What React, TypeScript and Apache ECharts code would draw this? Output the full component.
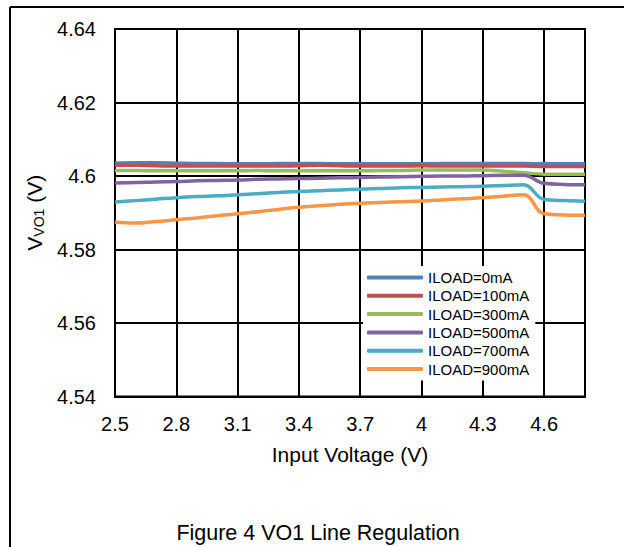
import React, { useEffect, useRef } from "react";
import * as echarts from "echarts";

const voltages = [2.5, 2.6, 2.7, 2.8, 2.9, 3.0, 3.1, 3.2, 3.3, 3.4, 3.5, 3.6, 3.7, 3.8, 3.9, 4.0, 4.1, 4.2, 4.3, 4.4, 4.5, 4.6, 4.7, 4.8];

const load0 = [4.6035, 4.6036, 4.6036, 4.6035, 4.6034, 4.6034, 4.6033, 4.6033, 4.6034, 4.6034, 4.6034, 4.6033, 4.6033, 4.6033, 4.6033, 4.6033, 4.6034, 4.6034, 4.6034, 4.6034, 4.6034, 4.6033, 4.6033, 4.6033];
const load100 = [4.6029, 4.6029, 4.6028, 4.6027, 4.6027, 4.6027, 4.6027, 4.6027, 4.6027, 4.6028, 4.6029, 4.6028, 4.6027, 4.6027, 4.6027, 4.6028, 4.6027, 4.6027, 4.6027, 4.6027, 4.6027, 4.6026, 4.6026, 4.6026];
const load300 = [4.6015, 4.6015, 4.6014, 4.6014, 4.6014, 4.6014, 4.6014, 4.6015, 4.6014, 4.6014, 4.6014, 4.6014, 4.6014, 4.6015, 4.6015, 4.6016, 4.6016, 4.6016, 4.6016, 4.6013, 4.6009, 4.6005, 4.6005, 4.6005];
const load500 = [4.5981, 4.5982, 4.5984, 4.5985, 4.5987, 4.5988, 4.5989, 4.5991, 4.5992, 4.5993, 4.5994, 4.5995, 4.5996, 4.5997, 4.5998, 4.5999, 4.6, 4.6, 4.6001, 4.6002, 4.6002, 4.598, 4.5977, 4.5976];
const load700 = [4.5929, 4.5933, 4.5937, 4.5941, 4.5944, 4.5946, 4.5949, 4.5952, 4.5955, 4.5958, 4.596, 4.5962, 4.5964, 4.5966, 4.5968, 4.5969, 4.597, 4.5971, 4.5972, 4.5974, 4.5976, 4.5936, 4.5933, 4.5931];
const load900 = [4.5874, 4.5872, 4.5876, 4.5881, 4.5886, 4.5892, 4.5897, 4.5903, 4.5909, 4.5915, 4.5919, 4.5923, 4.5926, 4.5928, 4.593, 4.5932, 4.5935, 4.5938, 4.5941, 4.5945, 4.5949, 4.5897, 4.5894, 4.5893];

const seriesNames = ["ILOAD=0mA", "ILOAD=100mA", "ILOAD=300mA", "ILOAD=500mA", "ILOAD=700mA", "ILOAD=900mA"];
const seriesData = [load0, load100, load300, load500, load700, load900];
const colors = ["#4F81BD", "#C0504D", "#9BBB59", "#8064A2", "#4BACC6", "#F79646"];

const FONT = "Liberation Sans, Arial, sans-serif";

export default function App() {
  const ref = useRef<HTMLDivElement>(null);

  useEffect(() => {
    if (!ref.current) return;
    const chart = echarts.init(ref.current, null, { renderer: "svg" });
    const fmt = (v: number) => String(Number(v.toFixed(2)));
    chart.setOption({
      animation: false,
      backgroundColor: "#fff",
      grid: {
        left: 115,
        right: 39,
        top: 29,
        bottom: 150.5,
        show: true,
        borderColor: "#000",
        borderWidth: 2,
        backgroundColor: "transparent",
      },
      legend: {
        data: seriesNames,
        orient: "vertical",
        left: 363,
        top: 266,
        backgroundColor: "#fff",
        padding: [4, 6, 4, 4],
        itemWidth: 56,
        itemHeight: 4,
        itemGap: 3.3,
        icon: "roundRect",
        textStyle: { fontFamily: FONT, fontSize: 15, color: "#000", lineHeight: 15 },
      },
      xAxis: {
        type: "value",
        min: 2.5,
        max: 4.8,
        interval: 0.3,
        name: "Input Voltage (V)",
        nameLocation: "middle",
        nameGap: 47,
        nameTextStyle: { fontFamily: FONT, fontSize: 21, color: "#000" },
        axisLine: { show: true, lineStyle: { color: "#000", width: 2 } },
        axisTick: { show: false },
        axisLabel: {
          fontFamily: FONT,
          fontSize: 20,
          color: "#000",
          margin: 17,
          showMaxLabel: false,
          formatter: fmt,
        },
        splitLine: { show: true, lineStyle: { color: "#000", width: 2 } },
      },
      yAxis: {
        type: "value",
        min: 4.54,
        max: 4.64,
        interval: 0.02,
        name: "{a|V}{b|VO1}{a| (V)}",
        nameLocation: "middle",
        nameRotate: 90,
        nameGap: 57,
        nameTextStyle: {
          fontFamily: FONT,
          color: "#000",
          rich: {
            a: { fontFamily: FONT, fontSize: 21, color: "#000", lineHeight: 24 },
            b: { fontFamily: FONT, fontSize: 14, color: "#000", lineHeight: 14, verticalAlign: "bottom" },
          },
        },
        axisLine: { show: true, lineStyle: { color: "#000", width: 2 } },
        axisTick: { show: false },
        axisLabel: { fontFamily: FONT, fontSize: 20, color: "#000", margin: 19, formatter: fmt },
        splitLine: { show: true, lineStyle: { color: "#000", width: 2 } },
      },
      series: seriesNames.map((name, i) => ({
        name,
        type: "line",
        data: voltages.map((v, j) => [v, seriesData[i][j]]),
        smooth: 0.4,
        showSymbol: false,
        symbol: "none",
        color: colors[i],
        lineStyle: { color: colors[i], width: 3.5 },
        z: 3,
      })),
      graphic: [
        { type: "line", shape: { x1: 10, y1: 7, x2: 10, y2: 547 }, style: { stroke: "#000", lineWidth: 2 } },
        { type: "line", shape: { x1: 10, y1: 7, x2: 624, y2: 7 }, style: { stroke: "#000", lineWidth: 2 } },
        {
          type: "text",
          x: 318,
          y: 533,
          style: {
            text: "Figure 4 VO1 Line Regulation",
            fontFamily: FONT,
            fontSize: 21.5,
            fill: "#000",
            align: "center",
            verticalAlign: "middle",
          },
        },
      ],
    });
    return () => chart.dispose();
  }, []);

  return <div ref={ref} style={{ position: "fixed", left: 0, top: 0, width: 624, height: 547 }} />;
}
